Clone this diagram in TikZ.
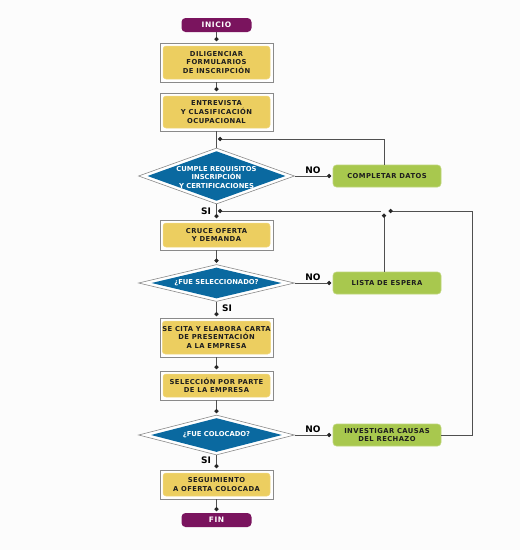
\documentclass[tikz,border=0pt]{standalone}
\usepackage{fontspec}
\setmainfont{DejaVu Sans}
\usetikzlibrary{shapes.geometric,arrows.meta,calc}
\definecolor{bgc}{HTML}{FCFCFC}
\definecolor{purp}{HTML}{7A145E}
\definecolor{yel}{HTML}{ECCE60}
\definecolor{blu}{HTML}{0A69A0}
\definecolor{grn}{HTML}{A8C84E}
\definecolor{frm}{HTML}{8A8A8A}
\definecolor{lin}{HTML}{505050}
\definecolor{txt}{HTML}{1E1E1E}
\newcommand{\boxfont}{\fontsize{6.8}{8.7}\selectfont\bfseries\addfontfeature{LetterSpace=6}}
\newcommand{\termfont}{\fontsize{7.5}{8.7}\selectfont\bfseries\addfontfeature{LetterSpace=8}}
\newcommand{\diafont}{\fontsize{6.8}{8.5}\selectfont\bfseries}
\newcommand{\lblfont}{\fontsize{9}{10}\selectfont\bfseries}
\begin{document}
\begin{tikzpicture}[x=1pt,y=-1pt,
  frame/.style={rectangle,draw=frm,line width=0.7pt,fill=white,minimum width=113pt,inner sep=0pt},
  ybox/.style={rectangle,rounded corners=3pt,fill=yel,draw=yel!80!white,line width=0.5pt,minimum width=107pt,inner sep=0pt,align=center,text=txt,font=\boxfont},
  gbox/.style={rectangle,rounded corners=3.5pt,fill=grn,draw=grn!75!white,line width=0.6pt,minimum width=108pt,minimum height=22pt,inner sep=0pt,align=center,text=txt,font=\boxfont},
  term/.style={rectangle,rounded corners=4pt,fill=purp,minimum width=70pt,minimum height=14pt,inner sep=0pt,text=white,font=\termfont},
  douter/.style={diamond,draw=frm,line width=0.6pt,fill=white,inner sep=0pt,minimum width=156pt},
  dinner/.style={diamond,fill=blu,inner sep=0pt},
  dtext/.style={align=center,text=white,font=\diafont,inner sep=0pt},
  lbl/.style={font=\lblfont,text=black,inner sep=0pt},
  conn/.style={draw=lin,line width=0.8pt},
  arr/.style={conn,-{Circle[length=4.2pt,fill=black!85,color=black!85]},shorten >=1.5pt}
]
\useasboundingbox[fill=bgc] (0,0) rectangle (520,550);

% terminals
\node[term] (inicio) at (216.5,25) {INICIO};
\node[term] (fin) at (216.5,520) {FIN};

% yellow boxes
\node[frame,minimum height=39pt] (dilig) at (216.5,62.5) {};
\node[ybox,minimum height=33pt] at (dilig.center) {DILIGENCIAR\\FORMULARIOS\\DE INSCRIPCIÓN};
\node[frame,minimum height=38pt] (entrev) at (216.5,112) {};
\node[ybox,minimum height=32pt] at (entrev.center) {ENTREVISTA\\Y CLASIFICACIÓN\\OCUPACIONAL};
\node[frame,minimum height=30pt] (cruce) at (216.5,235) {};
\node[ybox,minimum height=24pt] at (cruce.center) {CRUCE OFERTA\\Y DEMANDA};
\node[frame,minimum height=39pt] (cita) at (216.5,337.5) {};
\node[ybox,minimum height=33pt] at (cita.center) {SE CITA Y ELABORA CARTA\\DE PRESENTACIÓN\\A LA EMPRESA};
\node[frame,minimum height=29pt] (selec) at (216.5,385.5) {};
\node[ybox,minimum height=23pt] at (selec.center) {SELECCIÓN POR PARTE\\DE LA EMPRESA};
\node[frame,minimum height=29pt] (segui) at (216.5,484.5) {};
\node[ybox,minimum height=23pt] at (segui.center) {SEGUIMIENTO\\A OFERTA COLOCADA};

% diamonds
\node[douter,minimum height=56pt] (d1) at (216.5,176) {};
\node[dinner,minimum width=138pt,minimum height=49.6pt] at (d1.center) {};
\node[dtext] at ($(d1.center)+(0,1.5)$) {CUMPLE REQUISITOS\\INSCRIPCIÓN\\Y CERTIFICACIONES};
\node[douter,minimum height=37pt] (d2) at (216.5,283) {};
\node[dinner,minimum width=130pt,minimum height=30.8pt] at (d2.center) {};
\node[dtext] at (d2.center) {¿FUE SELECCIONADO?};
\node[douter,minimum height=40pt] (d3) at (216.5,435) {};
\node[dinner,minimum width=131pt,minimum height=33.8pt] at (d3.center) {};
\node[dtext] at (d3.center) {¿FUE COLOCADO?};

% green boxes
\node[gbox] (compl) at (387,176) {COMPLETAR DATOS};
\node[gbox] (lista) at (387,283) {LISTA DE ESPERA};
\node[gbox] (invest) at (387,435) {INVESTIGAR CAUSAS\\DEL RECHAZO};

% helper coordinates
\coordinate (m1) at (216.5,139);
\coordinate (j) at (384,211);
\coordinate (jl) at (381,211);
\coordinate (m2) at (216.5,211);
\coordinate (rc) at (472,211);

% main flow
\draw[arr] (inicio) -- (dilig);
\draw[arr] (dilig) -- (entrev);
\draw[conn] (entrev) -- (d1);
\draw[arr] (d1) -- (cruce);
\draw[arr] (cruce) -- (d2);
\draw[arr] (d2) -- (cita);
\draw[arr] (cita) -- (selec);
\draw[arr] (selec) -- (d3);
\draw[arr] (d3) -- (segui);
\draw[arr] (segui) -- (fin);

% NO branches
\draw[arr] (d1.east) -- (compl.west);
\draw[arr] (d2.east) -- (lista.west);
\draw[arr] (d3.east) -- (invest.west);

% feedback loops
\draw[arr] ([xshift=-2.5pt]compl.north) |- (m1);
\draw[arr,shorten >=2.5pt] ([xshift=-3pt]lista.north) -- (j);
\draw[arr,shorten >=4.5pt] (invest.east) -| (rc) -- (j);
\draw[arr] (jl) -- (m2);

% labels
\node[lbl] at (313,170) {NO};
\node[lbl] at (313,277) {NO};
\node[lbl] at (313,429) {NO};
\node[lbl] at (206,211) {SI};
\node[lbl] at (227,308) {SI};
\node[lbl] at (206,460) {SI};
\end{tikzpicture}
\end{document}
